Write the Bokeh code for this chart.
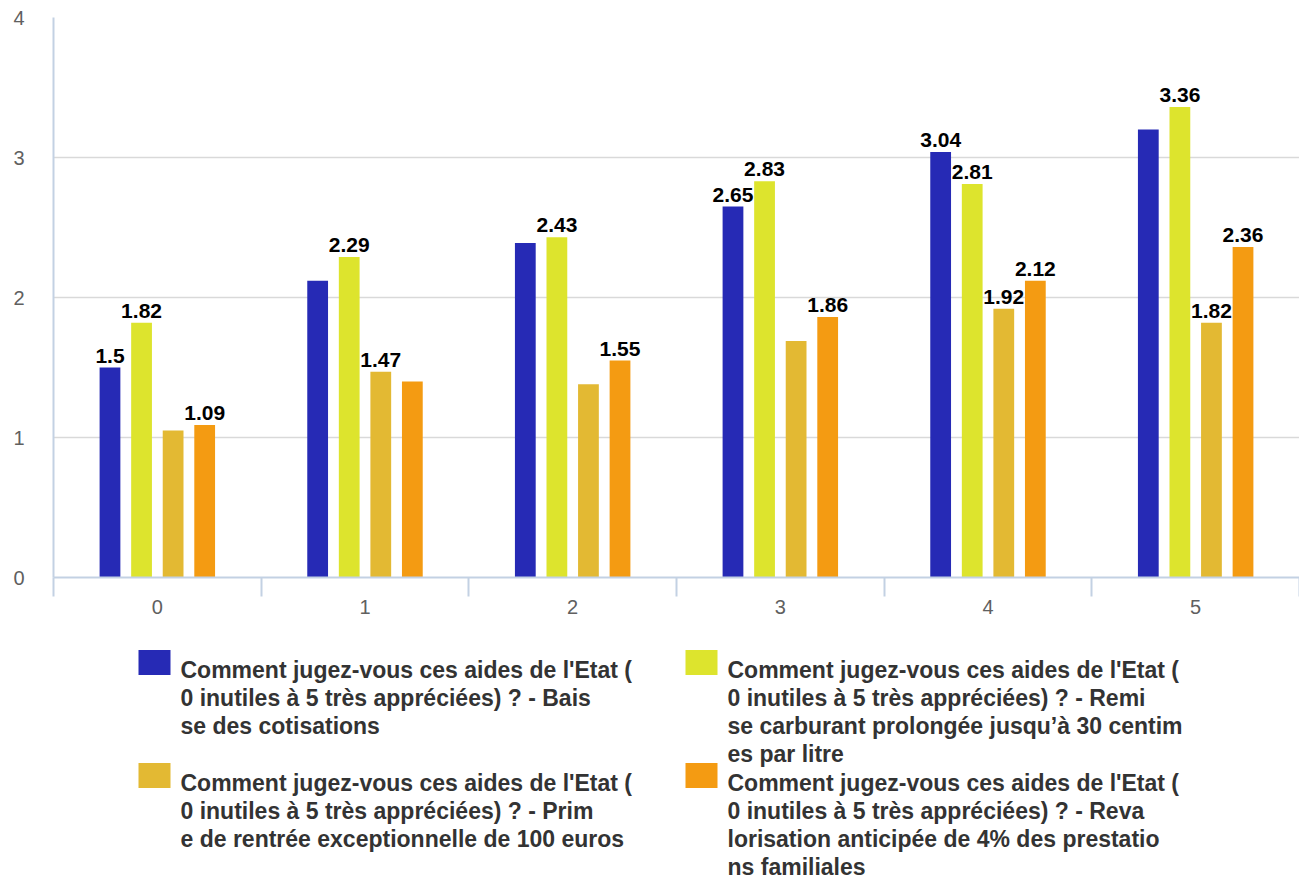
import numpy as np
from bokeh.plotting import figure
from bokeh.models import Range1d, FixedTicker, ColumnDataSource
from bokeh.layouts import column
from bokeh.embed import file_html
from bokeh.resources import INLINE
from bokeh.core.properties import value

# ---------------- data ----------------
categories = ["0", "1", "2", "3", "4", "5"]
baisse = [1.50, 2.12, 2.39, 2.65, 3.04, 3.20]
remise = [1.82, 2.29, 2.43, 2.83, 2.81, 3.36]
prime = [1.05, 1.47, 1.38, 1.69, 1.92, 1.82]
revalo = [1.09, 1.40, 1.55, 1.86, 2.12, 2.36]
# which bars carry a value label in the reference (per series, per category)
show_baisse = [1, 0, 0, 1, 1, 0]
show_remise = [1, 1, 1, 1, 1, 1]
show_prime = [0, 1, 0, 0, 1, 1]
show_revalo = [1, 0, 1, 1, 1, 1]

legend_lines = [
    ["Comment jugez-vous ces aides de l'Etat (",
     "0 inutiles à 5 très appréciées) ? - Bais",
     "se des cotisations"],
    ["Comment jugez-vous ces aides de l'Etat (",
     "0 inutiles à 5 très appréciées) ? - Remi",
     "se carburant prolongée jusqu’à 30 centim",
     "es par litre"],
    ["Comment jugez-vous ces aides de l'Etat (",
     "0 inutiles à 5 très appréciées) ? - Prim",
     "e de rentrée exceptionnelle de 100 euros"],
    ["Comment jugez-vous ces aides de l'Etat (",
     "0 inutiles à 5 très appréciées) ? - Reva",
     "lorisation anticipée de 4% des prestatio",
     "ns familiales"],
]
colors = ["#262ab5", "#dde42d", "#e3b933", "#f49b12"]
series = [baisse, remise, prime, revalo]
shows = [show_baisse, show_remise, show_prime, show_revalo]

# ---------------- main chart ----------------
W = 1299
H_MAIN = 640
LEFT = 53
FONT = "Liberation Sans"
AXIS_COL = "#c3d1e3"

p = figure(width=W, height=H_MAIN, output_backend="svg", toolbar_location=None,
           x_range=Range1d(-0.5, 5.5), y_range=Range1d(0, 4),
           min_border_left=LEFT, min_border_right=0, min_border_top=17,
           min_border_bottom=63)
p.outline_line_color = None
p.background_fill_color = "white"
p.border_fill_color = "white"

xs = np.arange(len(categories), dtype=float)
pitch = 0.152
bar_w = 0.1
offsets = [-1.5 * pitch, -0.5 * pitch, 0.5 * pitch, 1.5 * pitch]

for vals, col, off, show in zip(series, colors, offsets, shows):
    src = ColumnDataSource(dict(x=xs + off, top=vals))
    p.vbar(x="x", top="top", width=bar_w, bottom=0, source=src,
           fill_color=col, line_color=None)
    lx = [x + off for x, s in zip(xs, show) if s]
    ly = [v for v, s in zip(vals, show) if s]
    lt = [("%g" % v) for v, s in zip(vals, show) if s]
    p.text(x=lx, y=ly, text=lt, text_align="center", text_baseline="alphabetic",
           y_offset=-12, text_font=value(FONT), text_font_style="bold",
           text_font_size="21px", text_color="#000000")

# grid
p.xgrid.grid_line_color = None
p.ygrid.grid_line_color = "#d9d9d9"
p.ygrid.grid_line_width = 1.5
p.ygrid.ticker = FixedTicker(ticks=[0, 1, 2, 3, 4])

# y axis
p.yaxis.ticker = FixedTicker(ticks=[0, 1, 2, 3, 4])
p.yaxis.axis_line_color = AXIS_COL
p.yaxis.axis_line_width = 2
p.yaxis.major_tick_line_color = None
p.yaxis.minor_tick_line_color = None
p.yaxis.major_tick_out = 0
p.yaxis.major_tick_in = 0
p.yaxis.minor_tick_out = 0
p.yaxis.minor_tick_in = 0
p.yaxis.major_label_standoff = 29
p.yaxis.major_label_text_font = FONT
p.yaxis.major_label_text_font_size = "20px"
p.yaxis.major_label_text_color = "#606060"

# x axis: labels at category centres, ticks at category boundaries
p.xaxis.ticker = FixedTicker(ticks=list(xs),
                             minor_ticks=[x - 0.5 for x in xs] + [xs[-1] + 0.5])
p.xaxis.major_label_overrides = {float(x): c for x, c in zip(xs, categories)}
p.xaxis.axis_line_color = AXIS_COL
p.xaxis.axis_line_width = 2
p.xaxis.major_tick_line_color = None
p.xaxis.major_tick_out = 0
p.xaxis.major_tick_in = 0
p.xaxis.minor_tick_line_color = AXIS_COL
p.xaxis.minor_tick_line_width = 2
p.xaxis.minor_tick_out = 19
p.xaxis.minor_tick_in = 0
p.xaxis.major_label_standoff = 3
p.xaxis.major_label_text_font = FONT
p.xaxis.major_label_text_font_size = "20px"
p.xaxis.major_label_text_color = "#606060"

# ---------------- legend panel ----------------
# the column aligns the panel's frame with the chart's frame, so give it the
# same left border and a range that maps 1:1 to pixels of the whole width
H_LEG = 879 - H_MAIN
lg = figure(width=W, height=H_LEG, output_backend="svg", toolbar_location=None,
            x_range=Range1d(LEFT, W), y_range=Range1d(H_LEG, 0),
            min_border=0, min_border_left=LEFT, min_border_right=0,
            min_border_top=0, min_border_bottom=0)
lg.axis.visible = False
lg.grid.visible = False
lg.outline_line_color = None

col_x = [138, 685]           # swatch left edge per column (px)
text_dx = 42                 # swatch left -> text start
line_h = 28.3
row_base = [29, 142]         # baseline of first line per row
sw_w, sw_h = 32, 25

for i, lines in enumerate(legend_lines):
    c = i % 2
    r = i // 2
    x0 = col_x[c]
    b0 = row_base[r]
    lg.rect(x=[x0 + sw_w / 2], y=[b0 - 7], width=sw_w, height=sw_h,
            fill_color=colors[i], line_color=None)
    ys = [b0 + k * line_h for k in range(len(lines))]
    lg.text(x=[x0 + text_dx] * len(lines), y=ys, text=lines,
            text_align="left", text_baseline="alphabetic",
            text_font=value(FONT), text_font_style="bold",
            text_font_size="23px", text_color="#333333")

layout = column(p, lg, spacing=0)
open("out.html", "w").write(file_html(layout, INLINE))
